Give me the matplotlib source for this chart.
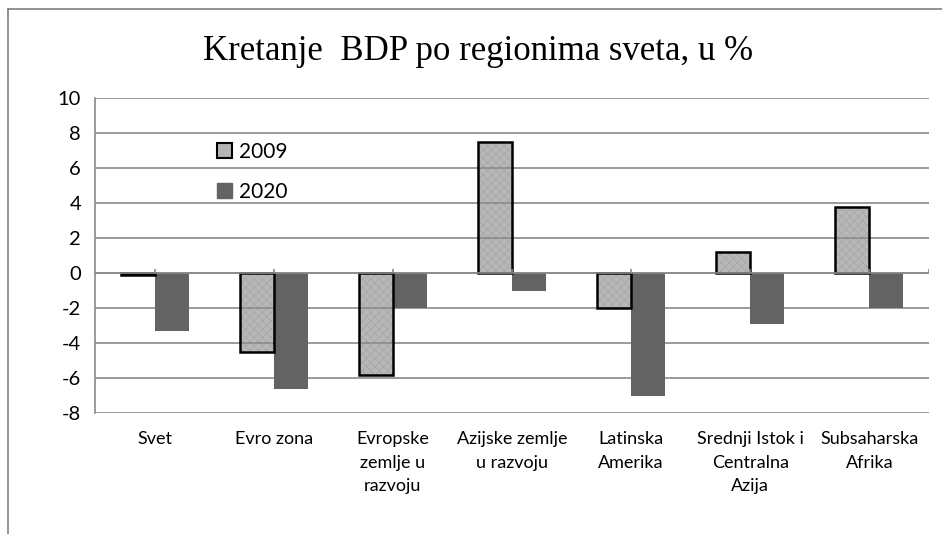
import matplotlib.pyplot as plt
from matplotlib.patches import Patch
from matplotlib.lines import Line2D
import numpy as np

categories = ['Svet', 'Evro zona', 'Evropske\nzemlje u\nrazvoju', 'Azijske zemlje\nu razvoju',
              'Latinska\nAmerika', 'Srednji Istok i\nCentralna\nAzija', 'Subsaharska\nAfrika']
gdp_2009 = [-0.1, -4.5, -5.8, 7.5, -2.0, 1.2, 3.8]
gdp_2020 = [-3.3, -6.6, -2.0, -1.0, -7.0, -2.9, -2.0]
yticks = [-8, -6, -4, -2, 0, 2, 4, 6, 8, 10]

grid_col = '#8a8a8a'
light = '#8c8c8c'
dark = '#636363'
sans = ['Lato', 'DejaVu Sans']

plt.rcParams['hatch.linewidth'] = 0.25

fig = plt.figure(figsize=(9.42, 5.34), dpi=100)
ax = fig.add_axes([95 / 942, 1 - 413.3 / 534, (929 - 95) / 942, (413.3 - 98.3) / 534])

x = np.arange(len(categories))
w = 0.285
ax.bar(x - w / 2, gdp_2009, w, color=light, alpha=0.62, edgecolor='#828282', hatch='xxxx',
       linewidth=0, zorder=3)
ax.bar(x - w / 2, gdp_2009, w, fill=False, edgecolor='black', linewidth=1.8, zorder=4)
ax.bar(x + w / 2, gdp_2020, w, color=dark, linewidth=0, zorder=3)

ax.set_xlim(-0.5, len(categories) - 0.5)
ax.set_ylim(-8, 10)
ax.set_yticks(yticks)
ax.set_yticklabels([str(v) for v in yticks], family=sans, fontsize=14.5)
ax.yaxis.grid(True, color=grid_col, linewidth=1.2, zorder=0)
ax.set_axisbelow(True)
ax.tick_params(axis='y', length=0, pad=10)

ax.set_xticks(x)
ax.set_xticklabels(categories, family=sans, fontsize=13, linespacing=1.55, va='top')
ax.tick_params(axis='x', length=0, pad=13)

for s in ['top', 'right', 'bottom']:
    ax.spines[s].set_visible(False)
ax.spines['left'].set_color(grid_col)
ax.spines['left'].set_linewidth(1.2)

# zero line with small category ticks
ax.axhline(0, color=grid_col, linewidth=1.2, zorder=5)
ax.vlines(list(x) + [len(categories) - 0.5], 0, 0.25, color=grid_col, linewidth=1.2, zorder=5)

handles = [Patch(facecolor='#b4b4b4', edgecolor='black', linewidth=1.5),
           Patch(facecolor=dark, edgecolor=dark)]
leg = fig.legend(handles, ['2009', '2020'], loc='upper left', bbox_to_anchor=(198 / 942, 1 - 123 / 534),
                 frameon=False, prop={'family': sans, 'size': 15}, handlelength=0.75, handleheight=0.75,
                 handletextpad=0.3, labelspacing=0.95)

fig.text(478 / 942, 1 - 52 / 534, 'Kretanje  BDP po regionima sveta, u %', ha='center', va='center',
         family='Liberation Serif', fontsize=25)

# outer chart frame (left and top edges only visible)
fig.lines.append(Line2D([8 / 942, 8 / 942], [0, 1 - 9 / 534], transform=fig.transFigure,
                        color='#7f7f7f', linewidth=1.2))
fig.lines.append(Line2D([8 / 942, 1], [1 - 9 / 534, 1 - 9 / 534], transform=fig.transFigure,
                        color='#7f7f7f', linewidth=1.2))

fig.savefig('out.png', dpi=100)
